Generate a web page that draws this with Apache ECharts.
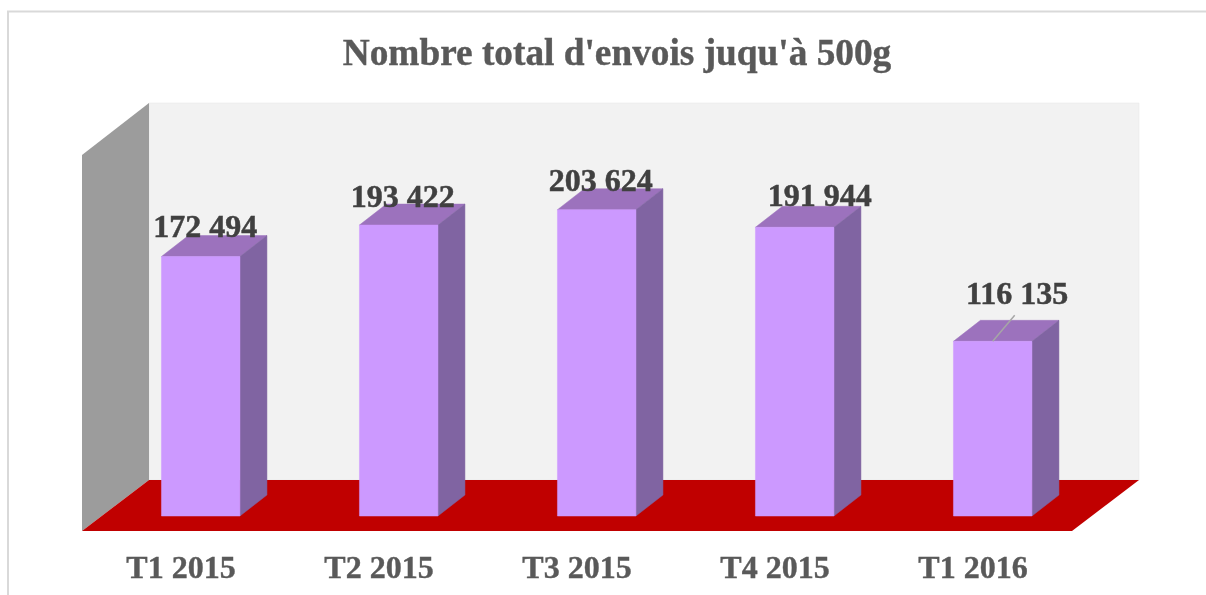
<!DOCTYPE html>
<html>
<head>
<meta charset="utf-8">
<style>html,body{margin:0;padding:0;background:#fff}#c{width:1206px;height:595px}</style>
<script src="https://cdn.jsdelivr.net/npm/echarts@6/dist/echarts.min.js"></script>
</head>
<body>
<div id="c"></div>
<script>
const categories = ['T1 2015', 'T2 2015', 'T3 2015', 'T4 2015', 'T1 2016'];
const envois = [172494, 193422, 203624, 191944, 116135];
const titleText = "Nombre total d'envois juqu'à 500g";

const FONT = '"Liberation Serif","Times New Roman",serif';
const labelDx = [4.5, 4, 4, 25, 24.5];
const labelDy = [-28, -26, -27, -30, -46];
const BAR_W = 78.5, DX = 27, DY = 21, BAR_SHIFT = 19.7;
const fmt = v => String(v).replace(/\B(?=(\d{3})+$)/g, ' ');

function poly(points, fill, z2) {
  return { type: 'polygon', shape: { points }, z2: z2 || 0,
    style: { fill, stroke: fill, lineWidth: 0.5 } };
}

function renderBar(params, api) {
  const i = api.value(0);
  const top = api.coord([i, api.value(1)]);
  const base = api.coord([i, 0]);
  const l = top[0] + BAR_SHIFT - BAR_W / 2, r = l + BAR_W;
  const t = top[1], b = base[1];
  const children = [
    poly([[l, t], [r, t], [r + DX, t - DY], [l + DX, t - DY]], '#9C72BD'),
    poly([[r, t], [r + DX, t - DY], [r + DX, b - DY], [r, b]], '#8064A2'),
    poly([[l, t], [r, t], [r, b], [l, b]], '#CC99FF')
  ];
  const cx = (l + r) / 2;
  if (labelDy[i] < -40) {
    children.push({ type: 'line', z2: 3,
      shape: { x1: cx, y1: t, x2: cx + 22, y2: t - 26 },
      style: { stroke: '#A6A6A6', lineWidth: 1.5 } });
  }
  children.push({ type: 'text', z2: 5,
    style: { x: cx + labelDx[i], y: t + labelDy[i], text: fmt(api.value(1)),
      fill: '#404040', stroke: '#404040', lineWidth: 0.5,
      font: 'bold 32px ' + FONT, align: 'center', verticalAlign: 'middle' } });
  return { type: 'group', children };
}

const chart = echarts.init(document.getElementById('c'), null, { renderer: 'canvas' });
chart.setOption({
  animation: false,
  backgroundColor: '#ffffff',
  title: {
    text: titleText, left: 612, top: 32, textAlign: 'center',
    textStyle: { fontFamily: FONT, fontWeight: 'bold', fontSize: 37.3, color: '#595959',
      textBorderColor: '#595959', textBorderWidth: 0.4 }
  },
  grid: { left: 82, right: 134, top: 155, bottom: 79 },
  xAxis: {
    type: 'category', data: categories,
    axisLine: { show: false }, axisTick: { show: false }, splitLine: { show: false },
    axisLabel: { fontFamily: FONT, fontWeight: 'bold', fontSize: 32, color: '#595959', margin: 38,
      textBorderColor: '#595959', textBorderWidth: 0.4 }
  },
  yAxis: { type: 'value', min: 0, max: 240000, show: false },
  graphic: { elements: [
    { type: 'rect', shape: { x: 8, y: 11.5, width: 1300, height: 700 },
      style: { fill: '#fff', stroke: '#D9D9D9', lineWidth: 2 } },
    { type: 'polygon', shape: { points: [[149, 103], [1139, 103], [1139, 480], [149, 480]] },
      style: { fill: '#F2F2F2', stroke: '#E4E4E4', lineWidth: 0.5 } },
    { type: 'polygon', shape: { points: [[82, 155], [149, 103], [149, 480], [82, 531]] },
      style: { fill: '#9C9C9C' } },
    { type: 'polygon', shape: { points: [[82, 531], [149, 480], [1139, 480], [1072, 531]] },
      style: { fill: '#C00000' } }
  ] },
  series: [{
    type: 'custom', clip: false, renderItem: renderBar,
    encode: { x: 0, y: 1 }, silent: true,
    data: envois.map((v, i) => [i, v])
  }]
});
</script>
</body>
</html>
